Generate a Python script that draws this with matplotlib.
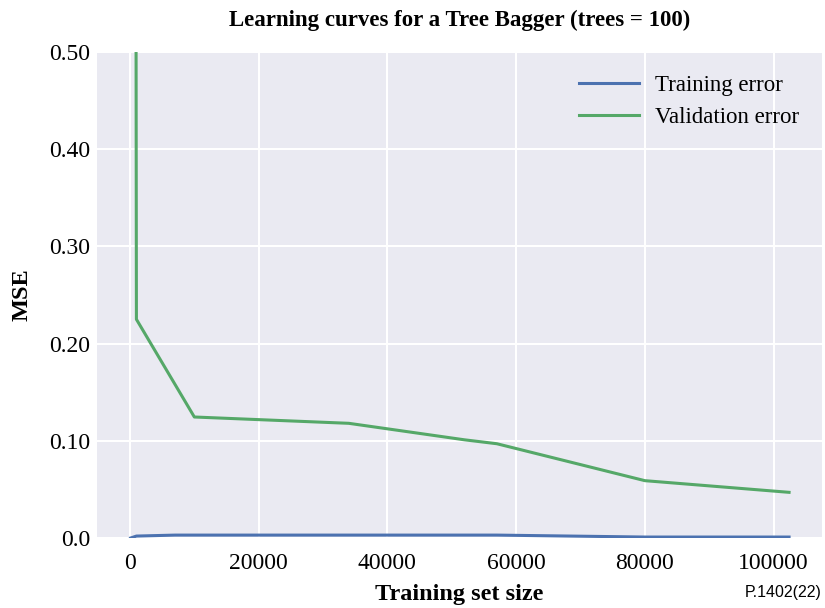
import matplotlib
matplotlib.use("Agg")
import matplotlib.pyplot as plt

# Datos
train_sizes = [100, 1000, 7000, 10000, 34000, 52000, 57000, 80000, 102400]
train_mse = [0.0, 0.002, 0.003, 0.003, 0.003, 0.003, 0.003, 0.001, 0.001]

val_sizes = [100, 1000, 10000, 34000, 52000, 57000, 80000, 102400]
val_mse = [5.0, 0.225, 0.1245, 0.118, 0.101, 0.097, 0.059, 0.047]

yticks = [0.0, 0.1, 0.2, 0.3, 0.4, 0.5]
ytick_labels = ["0.0", "0.10", "0.20", "0.30", "0.40", "0.50"]
xticks = [0, 20000, 40000, 60000, 80000, 100000]

serif = "Liberation Serif"

fig = plt.figure(figsize=(8.25, 6.08), dpi=100)
ax = fig.add_axes([0.1176, 0.1151, 0.8788, 0.7994])
ax.set_facecolor("#EAEAF2")
for s in ax.spines.values():
    s.set_visible(False)
ax.grid(True, color="white", linewidth=1.5)
ax.set_axisbelow(True)

ax.plot(train_sizes, train_mse, color="#4C72B0", linewidth=2.2, label="Training error")
ax.plot(val_sizes, val_mse, color="#55A868", linewidth=2.2, label="Validation error")

ax.set_ylim(0, 0.5)
ax.set_xlim(-5120, 107520)
ax.set_yticks(yticks)
ax.set_yticklabels(ytick_labels)
ax.set_xticks(xticks)
ax.tick_params(length=0)
ax.tick_params(axis="x", pad=11)
ax.tick_params(axis="y", pad=5)
for lab in ax.get_xticklabels() + ax.get_yticklabels():
    lab.set_fontfamily(serif)
    lab.set_fontsize(17)

ax.set_xlabel("Training set size", fontfamily=serif, fontsize=17.5, fontweight="bold", labelpad=7)
ax.set_ylabel("MSE", fontfamily=serif, fontsize=17.5, fontweight="bold", labelpad=12)
ax.set_title("Learning curves for a Tree Bagger (trees = 100)", fontfamily=serif,
             fontsize=16.5, fontweight="bold", pad=19)

leg = ax.legend(loc="upper right", frameon=False, prop={"family": serif, "size": 16.5},
                handlelength=2.6, handletextpad=0.7, borderaxespad=0.6)

fig.text(0.996, 0.018, "P.1402(22)", fontfamily="Liberation Sans", fontsize=11.5, ha="right")

fig.savefig("out.png", dpi=100)
